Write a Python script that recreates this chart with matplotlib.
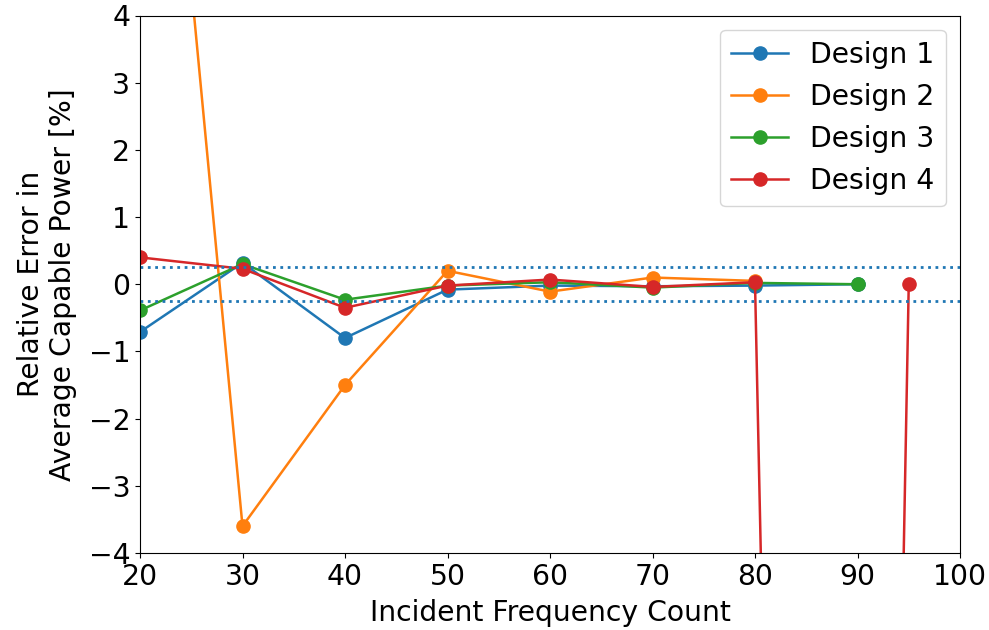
import numpy as np
import matplotlib
matplotlib.use("Agg")
import matplotlib.pyplot as plt

# values (relative error, %)
x_d1 = [20, 30, 40, 50, 60, 70, 80, 90]
y_d1 = [-0.71, 0.32, -0.80, -0.08, -0.02, -0.03, -0.02, 0.0]
x_d2 = [20, 30, 40, 50, 60, 70, 80]
y_d2 = [12.5, -3.6, -1.5, 0.20, -0.11, 0.10, 0.05]
x_d3 = [20, 30, 40, 50, 60, 70, 80, 90]
y_d3 = [-0.39, 0.30, -0.23, -0.02, 0.03, -0.05, 0.02, 0.0]
x_d4 = [20, 30, 40, 50, 60, 70, 80, 88, 95]
y_d4 = [0.40, 0.23, -0.35, -0.02, 0.07, -0.04, 0.03, -57.0, 0.0]
tol = 0.25

plt.rcParams["font.size"] = 20.3
fig = plt.figure(figsize=(9.89, 6.3), dpi=100)
ax = fig.add_axes([140 / 989, 1 - 553 / 630, 820 / 989, 537.5 / 630])

ax.plot(x_d1, y_d1, "o-", color="C0", ms=9.5, lw=1.8, label="Design 1")
ax.plot(x_d2, y_d2, "o-", color="C1", ms=9.5, lw=1.8, label="Design 2")
ax.plot(x_d3, y_d3, "o-", color="C2", ms=9.5, lw=1.8, label="Design 3")
ax.plot(x_d4, y_d4, "o-", color="C3", ms=9.5, lw=1.8, label="Design 4")
ax.axhline(tol, color="C0", ls=":", lw=2)
ax.axhline(-tol, color="C0", ls=":", lw=2)

ax.set_xlim(20, 100); ax.set_ylim(-4, 4)
ax.set_xticks(range(20, 101, 10))
ax.set_yticks(range(-4, 5))
ax.set_xlabel("Incident Frequency Count", labelpad=6)
ax.set_ylabel("Relative Error in\nAverage Capable Power [%]", labelpad=8)
ax.legend(loc="upper right")
fig.savefig("out.png", dpi=100)
